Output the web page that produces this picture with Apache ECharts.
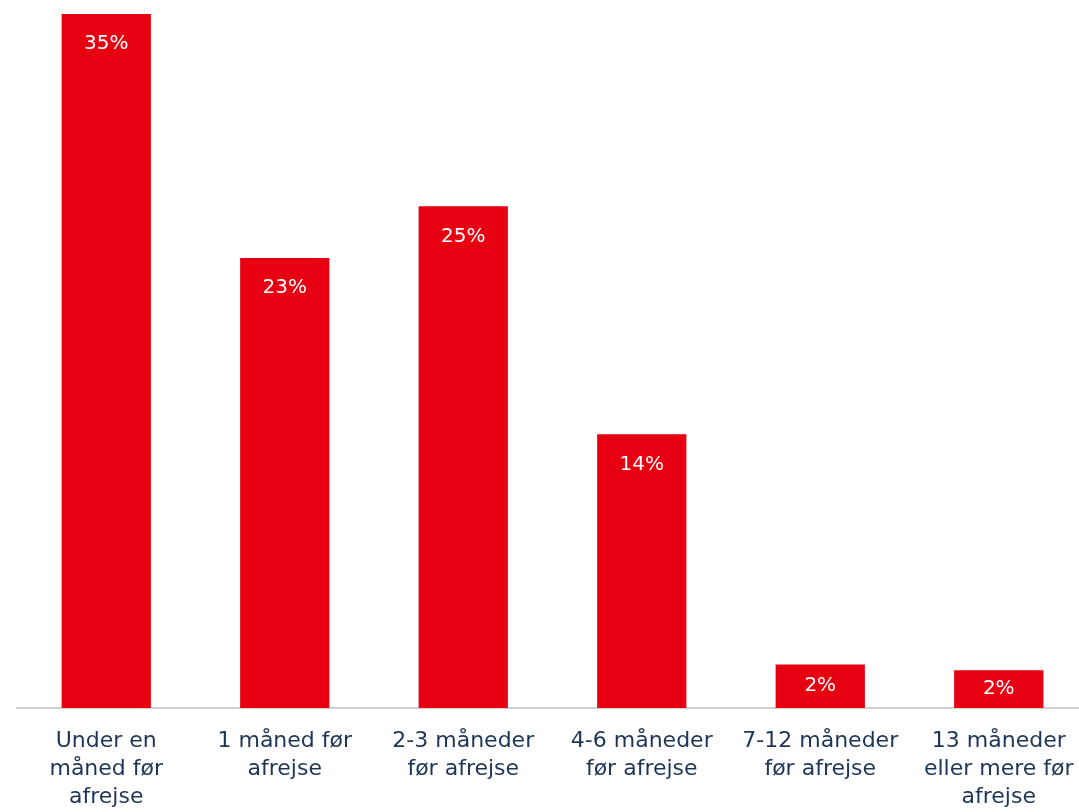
<!DOCTYPE html>
<html>
<head>
<meta charset="utf-8">
<script src="https://cdn.jsdelivr.net/npm/echarts@6/dist/echarts.min.js"></script>
<style>html,body{margin:0;padding:0;background:#fff;overflow:hidden}#c{width:1088px;height:812px}</style>
</head>
<body>
<div id="c"></div>
<script>
const categories = [
  "Under en\nmåned før\nafrejse",
  "1 måned før\nafrejse",
  "2-3 måneder\nfør afrejse",
  "4-6 måneder\nfør afrejse",
  "7-12 måneder\nfør afrejse",
  "13 måneder\neller mere før\nafrejse"
];
const values = [35.0, 22.7, 25.3, 13.8, 2.2, 1.9];

const chart = echarts.init(document.getElementById('c'));
chart.setOption({
  animation: false,
  grid: { left: 17, right: 0, top: 14, bottom: 104, containLabel: false },
  xAxis: {
    type: 'category',
    data: categories,
    axisLine: { lineStyle: { color: '#d0d0d0', width: 2 } },
    axisTick: { show: false },
    axisLabel: {
      interval: 0,
      margin: 19,
      color: '#1d3557',
      fontFamily: 'DejaVu Sans',
      fontSize: 22,
      lineHeight: 28
    }
  },
  yAxis: {
    type: 'value',
    min: 0,
    max: 35,
    show: false,
    splitLine: { show: false }
  },
  series: [{
    type: 'bar',
    data: values.map(v => ({
      value: v,
      label: v < 5 ? { position: 'inside' } : undefined
    })),
    barCategoryGap: '50%',
    itemStyle: { color: '#e60012' },
    label: {
      show: true,
      position: 'insideTop',
      distance: 20,
      color: '#ffffff',
      fontFamily: 'DejaVu Sans',
      fontSize: 20,
      formatter: p => Math.round(p.value) + '%'
    }
  }]
});
</script>
</body>
</html>
